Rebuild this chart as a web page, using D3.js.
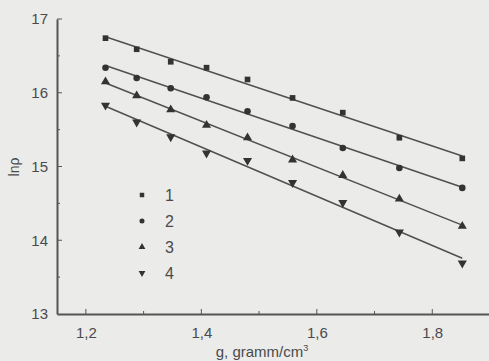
<!DOCTYPE html>
<html>
<head>
<meta charset="utf-8">
<script src="https://cdn.jsdelivr.net/npm/d3@7"></script>
<style>
  html, body { margin: 0; padding: 0; background: #ebebea; }
  svg { display: block; }
  text { font-family: "Liberation Sans", Arial, sans-serif; fill: #4a4a4a; }
</style>
</head>
<body>
<div id="chart"></div>
<script>
// density values, g/cm3
var density = [1.234, 1.288, 1.347, 1.409, 1.48, 1.558, 1.645, 1.743, 1.852];

// ln(rho) for the four series
var series1 = [16.74, 16.59, 16.42, 16.34, 16.18, 15.93, 15.73, 15.39, 15.11];
var series2 = [16.34, 16.20, 16.06, 15.94, 15.75, 15.55, 15.25, 14.98, 14.71];
var series3 = [16.15, 15.96, 15.77, 15.56, 15.39, 15.09, 14.88, 14.56, 14.19];
var series4 = [15.83, 15.60, 15.40, 15.18, 15.08, 14.78, 14.51, 14.11, 13.69];

var seriesNames = ['1', '2', '3', '4'];
var xTickValues = [1.2, 1.4, 1.6, 1.8];
var yTickValues = [13, 14, 15, 16, 17];

var width = 489, height = 361;

var svg = d3.select('#chart')
  .append('svg')
  .attr('width', width)
  .attr('height', height);

var x = d3.scaleLinear().domain([1.15, 1.9]).range([57, 490]);
var y = d3.scaleLinear().domain([13, 17]).range([314, 19]);

var allSeries = [series1, series2, series3, series4];
var symbols = [d3.symbolSquare, d3.symbolCircle, d3.symbolTriangle, d3.symbolTriangle];
var symbolSize = [32, 34, 36, 36];
var rotate = [0, 0, 0, 180];

// least squares fit for each series
function fit(xs, ys) {
  var mx = d3.mean(xs), my = d3.mean(ys);
  var num = 0, den = 0;
  xs.forEach(function(v, i) {
    num += (v - mx) * (ys[i] - my);
    den += (v - mx) * (v - mx);
  });
  var b = num / den;
  return { a: my - b * mx, b: b };
}

var x0 = density[0], x1 = density[density.length - 1];

allSeries.forEach(function(s, k) {
  var f = fit(density, s);
  svg.append('line')
    .attr('x1', x(x0)).attr('y1', y(f.a + f.b * x0))
    .attr('x2', x(x1)).attr('y2', y(f.a + f.b * x1))
    .attr('stroke', '#505050')
    .attr('stroke-width', 1.5);

  svg.selectAll('.pt' + k)
    .data(s)
    .enter()
    .append('path')
    .attr('class', 'pt' + k)
    .attr('d', d3.symbol().type(symbols[k]).size(symbolSize[k]))
    .attr('transform', function(d, i) {
      return 'translate(' + x(density[i]) + ',' + y(d) + ') rotate(' + rotate[k] + ')';
    })
    .attr('fill', '#333');
});

// axes
var fmt = function(d) { return String(d).replace('.', ','); };

var xAxis = d3.axisBottom(x)
  .tickValues(xTickValues)
  .tickFormat(fmt)
  .tickSize(0)
  .tickPadding(13);

var gx = svg.append('g')
  .attr('transform', 'translate(0,314)')
  .call(xAxis);
gx.select('.domain').attr('stroke', '#555').attr('stroke-width', 2);
gx.selectAll('text').style('font-size', '15px').style('fill', '#4a4a4a');

// x ticks pointing up, including minor ones
svg.selectAll('.xt')
  .data([1.2, 1.3, 1.4, 1.5, 1.6, 1.7, 1.8])
  .enter()
  .append('line')
  .attr('x1', function(d) { return x(d); })
  .attr('x2', function(d) { return x(d); })
  .attr('y1', 314)
  .attr('y2', function(d, i) { return i % 2 ? 311 : 309; })
  .attr('stroke', '#555');

var yAxis = d3.axisLeft(y)
  .tickValues(yTickValues)
  .tickFormat(d3.format('d'))
  .tickSize(0)
  .tickPadding(9);

var gy = svg.append('g')
  .attr('transform', 'translate(57,0)')
  .call(yAxis);
gy.select('.domain').attr('stroke', '#555').attr('stroke-width', 2);
gy.selectAll('text').style('font-size', '15px').style('fill', '#4a4a4a');

svg.selectAll('.yt')
  .data([13.5, 14, 14.5, 15, 15.5, 16, 16.5, 17])
  .enter()
  .append('line')
  .attr('x1', 57)
  .attr('x2', function(d, i) { return i % 2 ? 62 : 60; })
  .attr('y1', function(d) { return y(d); })
  .attr('y2', function(d) { return y(d); })
  .attr('stroke', '#555');

// axis titles
svg.append('text')
  .attr('transform', 'translate(19,167) rotate(-90)')
  .attr('text-anchor', 'middle')
  .style('font-size', '14px')
  .text('lnρ');

var xt = svg.append('text')
  .attr('x', 262)
  .attr('y', 357)
  .attr('text-anchor', 'middle')
  .style('font-size', '15px')
  .text('g, gramm/cm');
xt.append('tspan')
  .attr('dy', -6)
  .style('font-size', '9px')
  .text('3');

// legend
var legend = svg.selectAll('.leg')
  .data(seriesNames)
  .enter()
  .append('g')
  .attr('transform', function(d, i) { return 'translate(142,' + (195 + i * 26) + ')'; });

legend.append('path')
  .attr('d', function(d, i) { return d3.symbol().type(symbols[i]).size(20)(); })
  .attr('transform', function(d, i) { return 'rotate(' + rotate[i] + ')'; })
  .attr('fill', '#333');

legend.append('text')
  .attr('x', 23)
  .attr('y', 6)
  .style('font-size', '16px')
  .text(function(d) { return d; });
</script>
</body>
</html>
